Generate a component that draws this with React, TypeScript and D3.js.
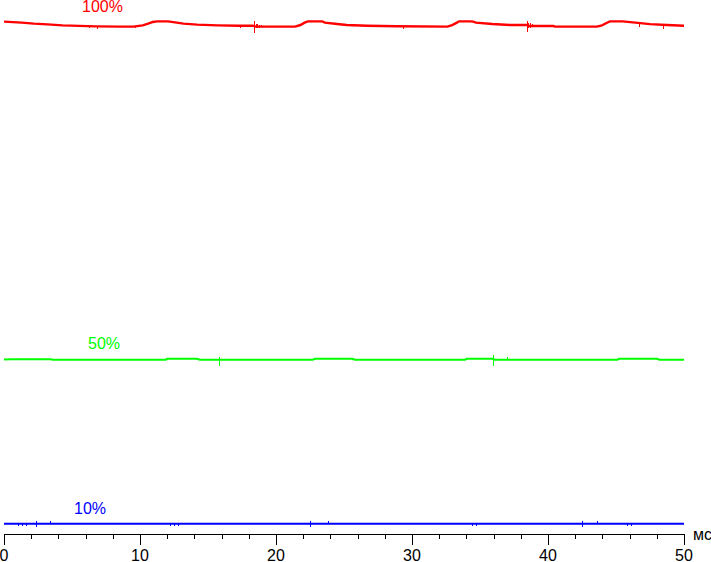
import React from "react";
import * as d3 from "d3";

// time (ms) and level keypoints
const redT = [0, 1.3, 2.2, 3.2, 4.3, 6.8, 8.5, 9.5, 10.2, 10.6, 10.95, 11.25, 12.0, 12.2, 13.2, 14.2, 15.7, 17.3, 18.3, 18.5, 21.4, 21.8, 22.1, 22.35, 23.4, 23.6, 24.5, 25.2, 26.7, 28.9, 32.6, 32.95, 33.3, 33.45, 34.3, 34.5, 34.7, 35.9, 37.2, 38.5, 38.6, 40.4, 40.5, 43.6, 43.97, 44.3, 44.55, 45.5, 46.6, 47.5, 48.75, 50];
const redV = [100.46, 100.26, 100.07, 99.93, 99.74, 99.54, 99.48, 99.48, 99.74, 100.07, 100.4, 100.52, 100.52, 100.46, 100.07, 99.87, 99.74, 99.67, 99.67, 99.48, 99.48, 99.8, 100.26, 100.52, 100.52, 100.26, 100.0, 99.8, 99.67, 99.55, 99.48, 99.8, 100.26, 100.52, 100.52, 100.46, 100.26, 100.0, 99.8, 99.8, 99.61, 99.61, 99.48, 99.48, 99.74, 100.2, 100.52, 100.52, 100.22, 99.98, 99.8, 99.67];

const greenT = [0, 0.5, 3.4, 3.6, 11.9, 12.0, 14.2, 14.4, 22.7, 22.85, 25.6, 25.8, 33.9, 34.0, 35.95, 36.1, 45.1, 45.2, 48.0, 48.2, 50];
const greenV = [34.22, 34.25, 34.25, 34.16, 34.16, 34.35, 34.35, 34.16, 34.16, 34.35, 34.35, 34.16, 34.16, 34.35, 34.35, 34.16, 34.16, 34.35, 34.35, 34.16, 34.18];

const blueT = [0, 50];
const blueV = [2.02, 2.02];

// spikes: [t, low, high]
const redSpikes: [number, number, number][] = [
  [18.38, 98.3, 100.59], [18.5, 99.3, 100.0], [18.6, 99.2, 100.0], [18.75, 99.3, 99.9], [18.9, 99.35, 99.9],
  [38.46, 98.5, 100.55], [38.55, 99.2, 100.2], [38.65, 99.3, 100.1], [38.8, 99.4, 100.0],
  [6.25, 99.2, 99.6], [6.84, 99.05, 99.6], [9.63, 99.2, 99.5], [17.35, 99.25, 99.7], [29.34, 99.05, 99.5],
  [46.7, 99.4, 99.95], [48.46, 99.05, 99.8], [49.93, 99.4, 99.7],
];
const greenSpikes: [number, number, number][] = [
  [15.81, 32.94, 34.71], [35.93, 33.0, 35.1], [37.0, 34.2, 34.76],
];
const blueSpikes: [number, number, number][] = [
  [2.33, 1.31, 2.55], [3.38, 2.0, 2.55], [22.48, 1.31, 2.55], [23.8, 2.0, 2.55], [42.5, 1.31, 2.55], [43.6, 2.0, 2.55],
  [1.0, 1.65, 1.9], [1.3, 1.65, 1.9], [1.6, 1.65, 1.9], [12.2, 1.65, 1.9], [12.5, 1.65, 1.9], [12.8, 1.65, 1.9],
  [34.4, 1.65, 1.9], [34.7, 1.65, 1.9], [45.8, 1.65, 1.9], [46.1, 1.65, 1.9],
];

const seriesNames = ["100%", "50%", "10%"];
const labelT = [5.74, 6.18, 5.15];
const labelLevel = [102.35, 36.27, 3.92];

const majorTicks = [0, 10, 20, 30, 40, 50];
const unitLabel = "мс";

export default function App() {
  const W = 711, H = 562;
  const x = d3.scaleLinear().domain([0, 50]).range([4, 684]);
  const y = d3.scaleLinear().domain([0, 100]).range([534, 24]);
  const line = d3.line<[number, number]>().x(d => x(d[0])).y(d => y(d[1]));
  const series = [
    { t: redT, v: redV, spikes: redSpikes, color: "#ff0000", w: 2.4 },
    { t: greenT, v: greenV, spikes: greenSpikes, color: "#00ff00", w: 2 },
    { t: blueT, v: blueV, spikes: blueSpikes, color: "#0000ff", w: 2 },
  ];
  const minor = d3.range(0, 50.001, 2).filter(v => v % 10 !== 0);
  const font = "'Liberation Sans', Arial, sans-serif";
  return (
    <svg width={W} height={H} style={{ position: "absolute", left: 0, top: 0, background: "#fff" }}>
      {series.map((s, i) => (
        <g key={i}>
          <path d={line(s.t.map((t, j) => [t, s.v[j]]))!} fill="none" stroke={s.color} strokeWidth={s.w} />
          {s.spikes.map((sp, j) => (
            <line key={j} x1={Math.round(x(sp[0])) + 0.5} x2={Math.round(x(sp[0])) + 0.5} y1={y(sp[2])} y2={y(sp[1])}
              stroke={s.color} strokeWidth={1} shapeRendering="crispEdges" />
          ))}
          <text x={x(labelT[i])} y={y(labelLevel[i])} fill={s.color} fontFamily={font} fontSize={16}>{seriesNames[i]}</text>
        </g>
      ))}
      <g shapeRendering="crispEdges" stroke="#000">
        <line x1={x(0)} x2={x(50) + 1} y1={y(0) + 0.5} y2={y(0) + 0.5} />
        {majorTicks.map(t => (
          <line key={t} x1={Math.round(x(t)) + 0.5} x2={Math.round(x(t)) + 0.5} y1={y(0)} y2={y(0) + 11} />
        ))}
        {minor.map(t => (
          <line key={t} x1={Math.round(x(t)) + 0.5} x2={Math.round(x(t)) + 0.5} y1={y(0)} y2={y(0) + 5} />
        ))}
      </g>
      {majorTicks.map(t => (
        <text key={t} x={x(t)} y={y(0) + 27} textAnchor="middle" fontFamily={font} fontSize={16} fill="#000">{t}</text>
      ))}
      <text x={x(50) + 9} y={y(0) + 6} fontFamily={font} fontSize={16} fill="#000">{unitLabel}</text>
    </svg>
  );
}
